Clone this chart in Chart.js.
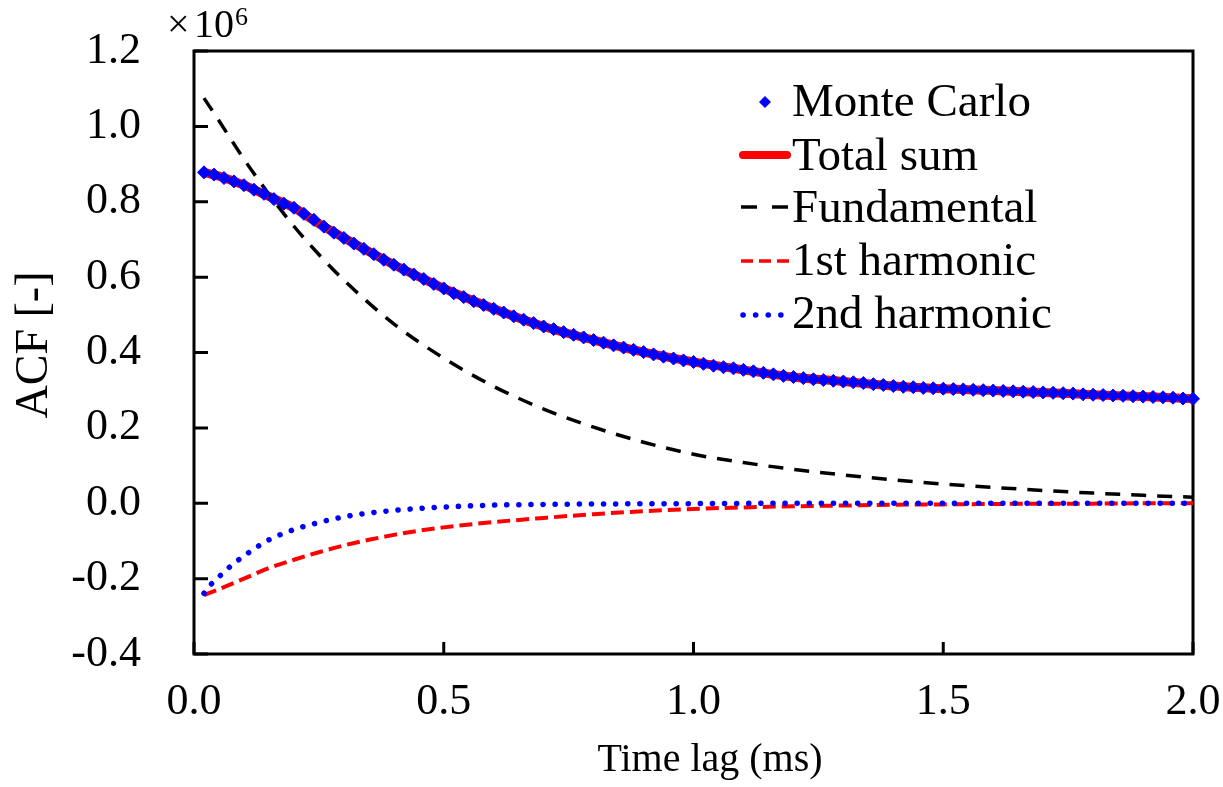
<!DOCTYPE html>
<html>
<head>
<meta charset="utf-8">
<script src="https://cdn.jsdelivr.net/npm/chart.js@4"></script>
<style>
  html, body { margin: 0; padding: 0; background: #fff; }
  #wrap { width: 1223px; height: 787px; }
</style>
</head>
<body>
<div id="wrap"><canvas id="acfChart" width="1223" height="787"></canvas></div>
<script>
// Monte Carlo samples (time lag in ms, ACF in units of 1e6)
const mcTime = [0.02,0.04,0.06,0.08,0.10,0.12,0.14,0.16,0.18,0.20,
  0.22,0.24,0.26,0.28,0.30,0.32,0.34,0.36,0.38,0.40,
  0.42,0.44,0.46,0.48,0.50,0.52,0.54,0.56,0.58,0.60,
  0.62,0.64,0.66,0.68,0.70,0.72,0.74,0.76,0.78,0.80,
  0.82,0.84,0.86,0.88,0.90,0.92,0.94,0.96,0.98,1.00,
  1.02,1.04,1.06,1.08,1.10,1.12,1.14,1.16,1.18,1.20,
  1.22,1.24,1.26,1.28,1.30,1.32,1.34,1.36,1.38,1.40,
  1.42,1.44,1.46,1.48,1.50,1.52,1.54,1.56,1.58,1.60,
  1.62,1.64,1.66,1.68,1.70,1.72,1.74,1.76,1.78,1.80,
  1.82,1.84,1.86,1.88,1.90,1.92,1.94,1.96,1.98,2.00];
const mcAcf = [0.878,0.872,0.863,0.854,0.844,0.832,0.821,0.807,0.795,0.784,
  0.768,0.752,0.734,0.718,0.704,0.689,0.675,0.661,0.646,0.633,
  0.620,0.607,0.595,0.582,0.570,0.557,0.547,0.536,0.526,0.516,
  0.506,0.496,0.487,0.478,0.469,0.462,0.454,0.447,0.440,0.433,
  0.426,0.419,0.413,0.407,0.401,0.395,0.389,0.384,0.379,0.375,
  0.370,0.365,0.361,0.358,0.354,0.350,0.346,0.342,0.338,0.335,
  0.332,0.329,0.327,0.325,0.323,0.321,0.319,0.316,0.314,0.311,
  0.309,0.308,0.306,0.305,0.304,0.303,0.302,0.301,0.300,0.299,
  0.298,0.297,0.296,0.295,0.294,0.293,0.292,0.291,0.289,0.288,
  0.287,0.286,0.285,0.284,0.283,0.282,0.281,0.280,0.278,0.277];

// Model: total sum
const sumTime = [0.02,0.05,0.1,0.15,0.2,0.25,0.3,0.35,0.4,0.45,0.5,0.6,0.7,0.8,0.9,1.0,1.1,1.2,1.3,1.4,1.5,1.6,1.7,1.8,1.9,2.0];
const sumAcf = [0.878,0.868,0.844,0.814,0.784,0.742,0.704,0.668,0.633,0.601,0.570,0.516,0.469,0.433,0.401,0.375,0.354,0.335,0.323,0.311,0.304,0.299,0.294,0.288,0.283,0.277];

// Fundamental
const fundTime = [0.02,0.05,0.1,0.15,0.2,0.25,0.3,0.4,0.5,0.6,0.7,0.8,0.9,1.0,1.1,1.2,1.3,1.4,1.5,1.6,1.7,1.8,1.9,2.0];
const fundAcf = [1.075,1.015,0.913,0.820,0.735,0.660,0.592,0.476,0.385,0.310,0.250,0.202,0.162,0.130,0.108,0.090,0.075,0.062,0.051,0.042,0.034,0.027,0.021,0.016];

// 1st harmonic
const harm1Time = [0.02,0.05,0.1,0.15,0.2,0.25,0.3,0.35,0.4,0.45,0.5,0.6,0.7,0.8,0.9,1.0,1.1,1.2,1.3,1.4,1.5,1.6,1.7,1.8,1.9,2.0];
const harm1Acf = [-0.244,-0.228,-0.200,-0.172,-0.150,-0.130,-0.112,-0.097,-0.084,-0.073,-0.064,-0.050,-0.039,-0.029,-0.021,-0.015,-0.011,-0.008,-0.006,-0.004,-0.003,-0.002,-0.001,-0.001,0,0];

// 2nd harmonic
const harm2Time = [0.02,0.035,0.05,0.075,0.1,0.125,0.15,0.2,0.25,0.3,0.35,0.4,0.45,0.5,0.6,0.7,0.8,1.0,1.2,1.5,2.0];
const harm2Acf = [-0.239,-0.214,-0.195,-0.165,-0.140,-0.117,-0.097,-0.070,-0.051,-0.036,-0.026,-0.019,-0.014,-0.010,-0.005,-0.003,-0.002,-0.001,0,0,0];

const legendLabels = ['Monte Carlo', 'Total sum', 'Fundamental', '1st harmonic', '2nd harmonic'];
const xTitle = 'Time lag (ms)';
const yTitle = 'ACF [-]';

const SERIF = '"Liberation Serif", "DejaVu Serif", serif';

function pairs(xs, ys) {
    return xs.map((x, i) => ({ x: x, y: ys[i] }));
}

// frame box + inward tick marks
const framePlugin = {
    id: 'frame',
    beforeDatasetsDraw(chart) {
        const { ctx, chartArea: a, scales: { x, y } } = chart;
        ctx.save();
        ctx.strokeStyle = '#000';
        ctx.lineWidth = 3;
        ctx.strokeRect(a.left, a.top, a.right - a.left, a.bottom - a.top);
        ctx.beginPath();
        x.ticks.forEach(t => {
            const px = x.getPixelForValue(t.value);
            ctx.moveTo(px, a.bottom);
            ctx.lineTo(px, a.bottom - 12);
        });
        y.ticks.forEach(t => {
            const py = y.getPixelForValue(t.value);
            ctx.moveTo(a.left, py);
            ctx.lineTo(a.left + 14, py);
        });
        ctx.stroke();
        ctx.restore();
    }
};

// axis titles, legend inside the plot, x10^6 multiplier
const legendPlugin = {
    id: 'insideLegend',
    afterDraw(chart) {
        const ctx = chart.ctx;
        ctx.save();
        ctx.fillStyle = '#000';

        // axis titles
        ctx.textAlign = 'center';
        ctx.textBaseline = 'middle';
        ctx.font = '40px ' + SERIF;
        ctx.fillText(xTitle, 710, 760);
        ctx.save();
        ctx.translate(35, 345);
        ctx.rotate(-Math.PI / 2);
        ctx.font = '46px ' + SERIF;
        ctx.fillText(yTitle, 0, 0);
        ctx.restore();

        ctx.textBaseline = 'alphabetic';
        ctx.textAlign = 'left';

        // multiplier
        ctx.font = '40px ' + SERIF;
        ctx.fillText('\u00d7', 167, 37);
        ctx.fillText('10', 194, 37);
        ctx.font = '26px ' + SERIF;
        ctx.fillText('6', 235, 25);

        const textX = 792;
        const baselines = [116, 170, 222, 275, 328];
        const x0 = 741, x1 = 789;
        ctx.font = '47px ' + SERIF;
        legendLabels.forEach((lab, i) => {
            ctx.fillStyle = '#000';
            ctx.fillText(lab, textX, baselines[i]);
        });

        // Monte Carlo diamond
        let yy = baselines[0] - 14;
        ctx.fillStyle = '#0000ff';
        ctx.beginPath();
        ctx.moveTo(765, yy - 6);
        ctx.lineTo(771, yy);
        ctx.lineTo(765, yy + 6);
        ctx.lineTo(759, yy);
        ctx.closePath();
        ctx.fill();

        // Total sum
        yy = baselines[1] - 15;
        ctx.lineCap = 'round';
        ctx.strokeStyle = '#ff0000';
        ctx.lineWidth = 8;
        ctx.beginPath(); ctx.moveTo(x0 + 2, yy); ctx.lineTo(x1 - 2, yy); ctx.stroke();

        // Fundamental
        yy = baselines[2] - 15;
        ctx.lineCap = 'butt';
        ctx.strokeStyle = '#000';
        ctx.lineWidth = 3.5;
        ctx.setLineDash([16, 15]);
        ctx.beginPath(); ctx.moveTo(x0, yy); ctx.lineTo(x1, yy); ctx.stroke();

        // 1st harmonic
        yy = baselines[3] - 14;
        ctx.strokeStyle = '#ff0000';
        ctx.setLineDash([12, 6]);
        ctx.beginPath(); ctx.moveTo(x0, yy); ctx.lineTo(x1, yy); ctx.stroke();

        // 2nd harmonic
        yy = baselines[4] - 13;
        ctx.strokeStyle = '#0000ff';
        ctx.lineWidth = 5.5;
        ctx.lineCap = 'round';
        ctx.setLineDash([0.1, 12.5]);
        ctx.beginPath(); ctx.moveTo(x0 + 2, yy); ctx.lineTo(x1 - 4, yy); ctx.stroke();

        ctx.restore();
    }
};

const ctx = document.getElementById('acfChart').getContext('2d');
new Chart(ctx, {
    type: 'scatter',
    data: {
        datasets: [
            {
                label: legendLabels[0],
                data: pairs(mcTime, mcAcf),
                showLine: false,
                pointStyle: 'rectRot',
                pointRadius: 6.5,
                pointBackgroundColor: '#0000ff',
                pointBorderColor: '#0000ff',
                pointBorderWidth: 1,
                clip: false,
                order: 0
            },
            {
                label: legendLabels[1],
                data: pairs(sumTime, sumAcf),
                showLine: true,
                borderColor: '#ff0000',
                borderWidth: 9,
                pointRadius: 0,
                cubicInterpolationMode: 'monotone',
                order: 3
            },
            {
                label: legendLabels[2],
                data: pairs(fundTime, fundAcf),
                showLine: true,
                borderColor: '#000000',
                borderWidth: 3.5,
                borderDash: [15, 11],
                pointRadius: 0,
                cubicInterpolationMode: 'monotone',
                order: 2
            },
            {
                label: legendLabels[3],
                data: pairs(harm1Time, harm1Acf),
                showLine: true,
                borderColor: '#ff0000',
                borderWidth: 4,
                borderDash: [13, 6],
                pointRadius: 0,
                cubicInterpolationMode: 'monotone',
                order: 4
            },
            {
                label: legendLabels[4],
                data: pairs(harm2Time, harm2Acf),
                showLine: true,
                borderColor: '#0000ff',
                borderWidth: 5.5,
                borderDash: [0.1, 12],
                borderCapStyle: 'round',
                pointRadius: 0,
                cubicInterpolationMode: 'monotone',
                order: 1
            }
        ]
    },
    options: {
        responsive: false,
        animation: false,
        layout: { padding: { top: 51, right: 30, left: 0, bottom: 0 } },
        plugins: {
            legend: { display: false },
            tooltip: { enabled: false }
        },
        scales: {
            x: {
                type: 'linear',
                min: 0,
                max: 2,
                afterFit: s => { s.height = 133; s.paddingLeft = 0; s.paddingRight = 0; },
                border: { display: false },
                grid: { display: false, drawTicks: false },
                ticks: {
                    stepSize: 0.5,
                    padding: 22,
                    color: '#000',
                    font: { family: SERIF, size: 44 },
                    maxRotation: 0,
                    callback: v => v.toFixed(1)
                },
                title: { display: false }
            },
            y: {
                type: 'linear',
                min: -0.4,
                max: 1.2,
                afterFit: s => { s.width = 194; s.paddingTop = 0; s.paddingBottom = 0; },
                border: { display: false },
                grid: { display: false, drawTicks: false },
                ticks: {
                    stepSize: 0.2,
                    padding: 53,
                    color: '#000',
                    font: { family: SERIF, size: 44 },
                    callback: v => (Math.abs(v) < 1e-9 ? 0 : v).toFixed(1)
                },
                title: { display: false }
            }
        }
    },
    plugins: [framePlugin, legendPlugin]
});
</script>
</body>
</html>
